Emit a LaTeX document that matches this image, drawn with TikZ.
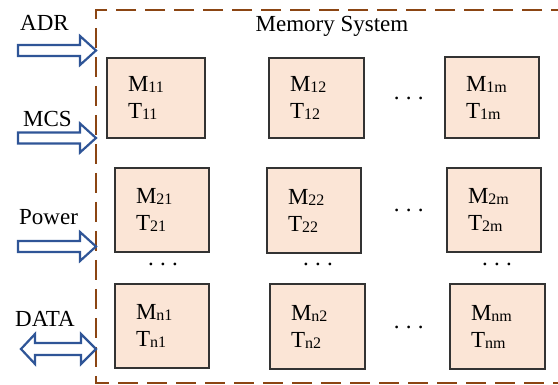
\documentclass[tikz,border=0pt]{standalone}
\usepackage{fontspec}
\setmainfont{Liberation Serif}
\definecolor{cellfill}{HTML}{FBE5D6}
\definecolor{cellline}{HTML}{333333}
\definecolor{frameclr}{HTML}{8B4513}
\definecolor{arrowclr}{HTML}{2F5597}
\newcommand{\sbs}[1]{\raisebox{-1pt}{\fontsize{16}{16}\selectfont #1}}
\tikzset{
  cell/.style={draw=cellline, line width=1.6pt, fill=cellfill, rectangle,
    align=left, inner xsep=0pt, inner ysep=0pt, font=\fontsize{23}{27}\selectfont},
  lbl/.style={font=\fontsize{23}{27}\selectfont, inner sep=0pt},
  dotsnode/.style={font=\fontsize{23}{27}\selectfont, inner sep=0pt},
  frame/.style={draw=frameclr, line width=2.6pt, dash pattern=on 20pt off 9pt},
  blockarrow/.style={draw=arrowclr, line width=2.2pt, fill=white, line join=miter}
}
\begin{document}
\begin{tikzpicture}[x=1pt,y=-1pt]
\useasboundingbox (0,0) rectangle (558,385);
% frame (right side lies beyond the picture)
\coordinate (ftl) at (96,10);
\coordinate (fbl) at (96,383);
\draw[frame] (600,10) -- (ftl) -- (fbl) -- (600,383);
\node[lbl, anchor=base] (title) at (332,32) {Memory System};
% cells
\newcommand{\cell}[6]{%
  \node[cell, minimum width=#3pt, minimum height=#4pt, text width=#3pt-42pt] (#1) at (#2) {M\sbs{#5}\\T\sbs{#6}};}
\cell{c11}{156,98}{98}{80}{11}{11}
\cell{c12}{316.5,98}{95}{80}{12}{12}
\cell{c1m}{492,97.5}{94}{81}{1m}{1m}
\cell{c21}{162,210}{94}{84}{21}{21}
\cell{c22}{314,210.5}{94}{85}{22}{22}
\cell{c2m}{494,210}{94}{84}{2m}{2m}
\cell{cn1}{162,326}{94}{84}{n1}{n1}
\cell{cn2}{317.5,326.5}{95}{85}{n2}{n2}
\cell{cnm}{497.5,326.5}{95}{85}{nm}{nm}
% dots
\newcommand{\dd}{.\kern6.3pt.\kern6.3pt.}
\node[dotsnode] (d1) at (408.7,98) {\dd};
\node[dotsnode] (d2) at (408.7,210) {\dd};
\node[dotsnode] (d3) at (163,264) {\dd};
\node[dotsnode] (d4) at (318,264) {\dd};
\node[dotsnode] (d5) at (497,264) {\dd};
\node[dotsnode] (d6) at (408.7,327) {\dd};
% labels
\node[lbl, anchor=base west] (adr) at (20,31) {ADR};
\node[lbl, anchor=base west] (mcs) at (23,127) {MCS};
\node[lbl, anchor=base west] (pwr) at (19,225) {Power};
\node[lbl, anchor=base west] (data) at (15,327) {DATA};
% block arrows (tips touch the frame)
\coordinate (t1) at (96,50.5);
\coordinate (t2) at (96,138);
\coordinate (t3) at (96,246.5);
\coordinate (t4) at (96,349);
\newcommand{\sarrow}[1]{%
  \draw[blockarrow] (#1) -- ++(-16,-14.5) -- ++(0,9) -- ++(-62,0) -- ++(0,11) -- ++(62,0) -- ++(0,9) -- cycle;}
\sarrow{t1}
\sarrow{t2}
\sarrow{t3}
\draw[blockarrow] (t4) -- ++(-15,-15) -- ++(0,9) -- ++(-46,0) -- ++(0,-9) -- ++(-14,15)
  -- ++(14,15) -- ++(0,-9) -- ++(46,0) -- ++(0,9) -- cycle;
\end{tikzpicture}
\end{document}
